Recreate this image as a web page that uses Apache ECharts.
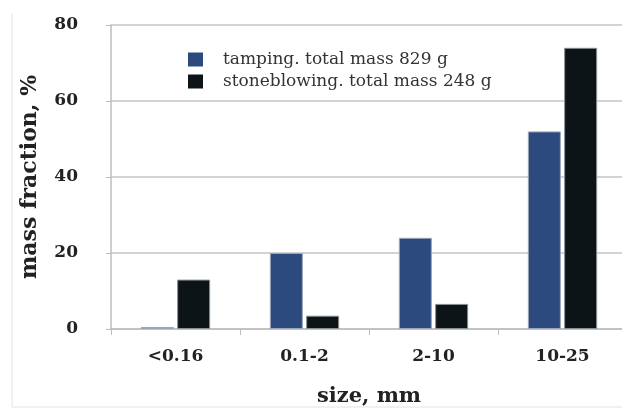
<!DOCTYPE html>
<html>
<head>
<meta charset="utf-8">
<style>
html,body{margin:0;padding:0;background:#fff;}
#chart{width:622px;height:410px;}
</style>
<script src="https://cdn.jsdelivr.net/npm/echarts@6/dist/echarts.min.js"></script>
</head>
<body>
<div id="chart"></div>
<script>
const categories = ['<0.16', '0.1-2', '2-10', '10-25'];
const tamping = [0.5, 20, 24, 52];
const stoneblowing = [13, 3.5, 6.6, 74];
const seriesNames = ['tamping. total mass 829 g', 'stoneblowing. total mass 248 g'];
const yTicks = [0, 20, 40, 60, 80];

const FONT = '"DejaVu Serif", "Liberation Serif", serif';
const chart = echarts.init(document.getElementById('chart'));
chart.setOption({
  animation: false,
  backgroundColor: '#fff',
  graphic: [
    {type: 'line', shape: {x1: 12, y1: 14, x2: 12, y2: 407}, style: {stroke: '#e2e2e2', lineWidth: 1}},
    {type: 'line', shape: {x1: 12, y1: 407, x2: 622, y2: 407}, style: {stroke: '#e2e2e2', lineWidth: 1}}
  ],
  legend: {
    orient: 'vertical',
    left: 183,
    top: 46,
    icon: 'rect',
    itemWidth: 15,
    itemHeight: 14,
    itemGap: 5,
    data: seriesNames,
    itemStyle: {borderWidth: 0},
    textStyle: {fontFamily: FONT, fontSize: 17, color: '#333', padding: [0, 0, 0, 15]}
  },
  grid: {left: 111, top: 25, width: 516, height: 304, containLabel: false, outerBoundsMode: 'none'},
  xAxis: {
    type: 'category',
    data: categories,
    name: 'size, mm',
    nameLocation: 'middle',
    nameGap: 57,
    nameTextStyle: {fontFamily: FONT, fontSize: 21, fontWeight: 'bold', color: '#222'},
    axisLine: {lineStyle: {color: '#bdbdbd', width: 1.5}},
    axisTick: {show: true, length: 6, lineStyle: {color: '#bdbdbd'}},
    axisLabel: {fontFamily: FONT, fontSize: 17, fontWeight: 'bold', color: '#222', margin: 19}
  },
  yAxis: {
    type: 'value',
    min: 0, max: 80, interval: 20,
    name: 'mass fraction, %',
    nameLocation: 'middle',
    nameGap: 70,
    nameRotate: 90,
    nameTextStyle: {fontFamily: FONT, fontSize: 22, fontWeight: 'bold', color: '#222'},
    axisLine: {show: true, lineStyle: {color: '#bdbdbd', width: 1.5}},
    axisTick: {show: true, length: 5, lineStyle: {color: '#bdbdbd'}},
    axisLabel: {fontFamily: FONT, fontSize: 17, fontWeight: 'bold', color: '#222', margin: 33,
      formatter: v => yTicks.includes(v) ? String(v) : ''},
    splitLine: {show: true, lineStyle: {color: '#c4c4c4', width: 1.5}}
  },
  series: [
    {
      name: seriesNames[0], type: 'bar', data: tamping,
      barWidth: 33, barGap: '10%',
      itemStyle: {color: '#2d4a7f', borderColor: '#9aa6b8', borderWidth: 1}
    },
    {
      name: seriesNames[1], type: 'bar', data: stoneblowing,
      barWidth: 33, barGap: '10%',
      itemStyle: {color: '#0d1417', borderColor: '#8a8f92', borderWidth: 1}
    }
  ]
});
</script>
</body>
</html>
